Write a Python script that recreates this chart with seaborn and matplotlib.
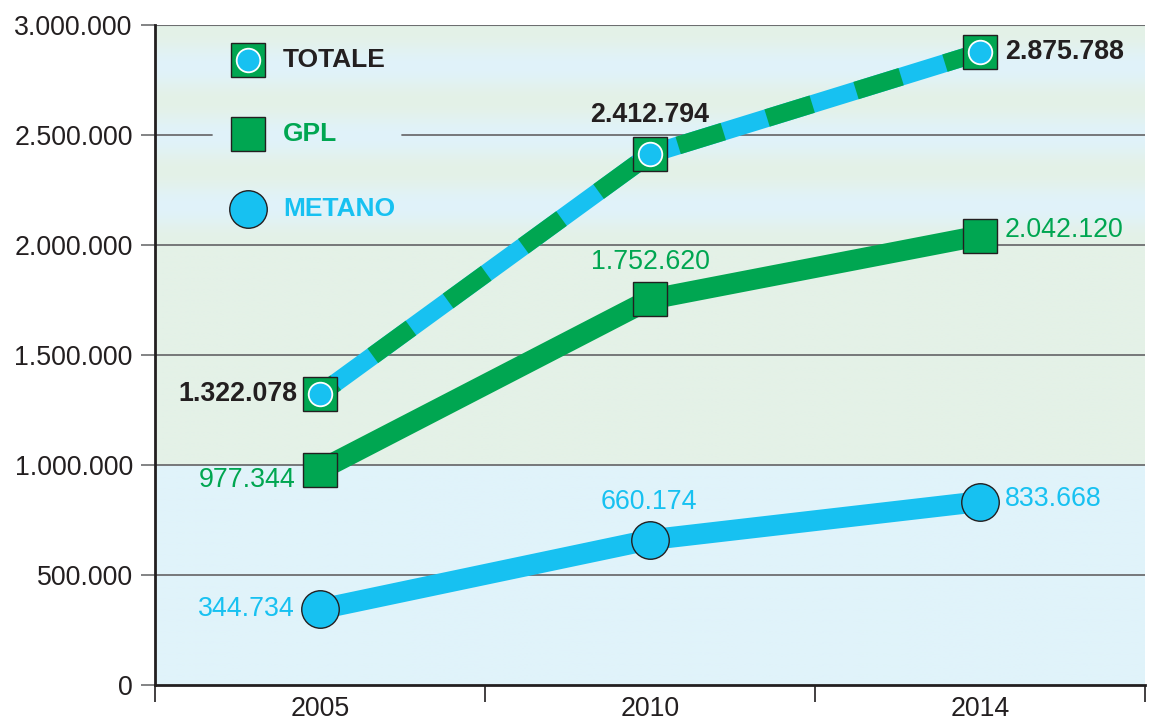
import numpy as np
import pandas as pd
import matplotlib
matplotlib.use("Agg")
import matplotlib.pyplot as plt
import seaborn as sns
from matplotlib.colors import to_rgb

# ---------------- data ----------------
years = ["2005", "2010", "2014"]
totale = [1322078, 2412794, 2875788]
gpl = [977344, 1752620, 2042120]
metano = [344734, 660174, 833668]
series_names = ["TOTALE", "GPL", "METANO"]
y_ticks = [0, 500000, 1000000, 1500000, 2000000, 2500000, 3000000]

# ---------------- style ----------------
GREEN = "#00A651"
BLUE = "#17C1F1"
DARK = "#231F20"
GRID = "#6D6E70"
BG_BLUE = "#E0F3FA"
BG_GREEN = "#E4F1E7"

sns.set_theme(style="white")
plt.rcParams["font.family"] = ["Liberation Sans", "DejaVu Sans"]
plt.rcParams["lines.scale_dashes"] = False

def fmt(v):
    return f"{v:,}".replace(",", ".")

fig = plt.figure(figsize=(11.49, 7.21), dpi=100)
ax = fig.add_axes([155 / 1149, 36 / 721, 990 / 1149, 660 / 721])

x = np.arange(len(years))
ax.set_xlim(-0.5, 2.5)
ax.set_ylim(0, 3000000)

# ---------------- background bands ----------------
yy = np.linspace(0, 3000000, 600)
gb, gg = np.array(to_rgb(BG_BLUE)), np.array(to_rgb(BG_GREEN))
rows = []
for v in yy:
    if v < 1000000:
        m = 0.0
    elif v < 2000000:
        m = 1.0
    else:
        m = 0.5 + 0.5 * np.cos((v - 2020000) / 318000 * 2 * np.pi)
    rows.append(gb * (1 - m) + gg * m)
img = np.array(rows)[:, None, :].repeat(2, axis=1)
ax.imshow(img, extent=(-0.5, 2.5, 0, 3000000), origin="lower", aspect="auto", zorder=0)

# ---------------- grid lines ----------------
for t in y_ticks[1:]:
    if t == 2500000:
        ax.axhline(t, xmin=0, xmax=57 / 990, color=GRID, lw=1.3, zorder=1)
        ax.axhline(t, xmin=247 / 990, xmax=1, color=GRID, lw=1.3, zorder=1)
    else:
        ax.axhline(t, color=GRID, lw=1.5 if t == 3000000 else 1.3, zorder=1)

# ---------------- lines ----------------
df_m = pd.DataFrame({"x": x, "y": metano})
df_g = pd.DataFrame({"x": x, "y": gpl})
df_t = pd.DataFrame({"x": x, "y": totale})

sns.lineplot(data=df_m, x="x", y="y", ax=ax, color=BLUE, lw=15, marker="o",
             markersize=27, markerfacecolor=BLUE, markeredgecolor=DARK,
             markeredgewidth=1.0, zorder=3, solid_capstyle="butt")
sns.lineplot(data=df_g, x="x", y="y", ax=ax, color=GREEN, lw=15, marker="s",
             markersize=24.5, markerfacecolor=GREEN, markeredgecolor=DARK,
             markeredgewidth=1.0, zorder=3, solid_capstyle="butt")
sns.lineplot(data=df_t, x="x", y="y", ax=ax, color=BLUE, lw=13, zorder=4,
             solid_capstyle="butt")
sns.lineplot(data=df_t, x="x", y="y", ax=ax, color=GREEN, lw=13, zorder=4)
dl = ax.lines[-1]
dl.set_linestyle((20, (34, 33)))
dl.set_dash_capstyle("butt")
dl.set_dash_joinstyle("miter")
ax.plot(x, totale, ls="none", marker="s", markersize=24.5, markerfacecolor=GREEN,
        markeredgecolor=DARK, markeredgewidth=1.0, zorder=5)
ax.plot(x, totale, ls="none", marker="o", markersize=17, markerfacecolor=BLUE,
        markeredgecolor="white", markeredgewidth=1.3, zorder=6)

# ---------------- value labels ----------------
FS = 19.3
def lab(i, v, color, dx, dy, ha, bold=False):
    ax.annotate(fmt(v), (x[i], v), xytext=(dx, dy), textcoords="offset points",
                ha=ha, va="center", fontsize=FS, color=color,
                fontweight="bold" if bold else "normal", zorder=7)

lab(0, totale[0], DARK, -16, 0, "right", True)
lab(1, totale[1], DARK, 0, 28, "center", True)
lab(2, totale[2], DARK, 18, 0, "left", True)
lab(0, gpl[0], GREEN, -18, -7, "right")
lab(1, gpl[1], GREEN, 0, 27, "center")
lab(2, gpl[2], GREEN, 18, 4, "left")
lab(0, metano[0], BLUE, -18, 0, "right")
lab(1, metano[1], BLUE, -1, 27, "center")
lab(2, metano[2], BLUE, 18, 2, "left")

# ---------------- legend (manual) ----------------
lx, tx = 93 / 990, 128 / 990
ly = [(685 - 60) / 660, (685 - 134) / 660, (685 - 209) / 660]
ax.plot([lx], [ly[0]], transform=ax.transAxes, marker="s", markersize=24.5,
        markerfacecolor=GREEN, markeredgecolor=DARK, markeredgewidth=1.0, clip_on=False, zorder=8)
ax.plot([lx], [ly[0]], transform=ax.transAxes, marker="o", markersize=17,
        markerfacecolor=BLUE, markeredgecolor="white", markeredgewidth=1.3, clip_on=False, zorder=9)
ax.plot([lx], [ly[1]], transform=ax.transAxes, marker="s", markersize=24.5,
        markerfacecolor=GREEN, markeredgecolor=DARK, markeredgewidth=1.0, clip_on=False, zorder=8)
ax.plot([lx], [ly[2]], transform=ax.transAxes, marker="o", markersize=27,
        markerfacecolor=BLUE, markeredgecolor=DARK, markeredgewidth=1.0, clip_on=False, zorder=8)
for name, yv, c in zip(series_names, ly, [DARK, GREEN, BLUE]):
    ax.text(tx, yv, name, transform=ax.transAxes, ha="left", va="center",
            fontsize=19, fontweight="bold", color=c, zorder=9)

# ---------------- axes ----------------
ax.set_yticks(y_ticks)
ax.set_yticklabels([fmt(t) for t in y_ticks])
ax.set_xticks([-0.5, 0.5, 1.5, 2.5])
ax.set_xticklabels([])
ax.set_xticks(x, minor=True)
ax.set_xticklabels(years, minor=True)
ax.tick_params(axis="y", which="major", left=True, length=10, width=1.2, color=GRID,
               labelsize=19.3, labelcolor=DARK, pad=6)
ax.tick_params(axis="x", which="major", bottom=True, length=12, width=1.2, color=DARK)
ax.tick_params(axis="x", which="minor", bottom=False, length=0, labelsize=19.3,
               labelcolor=DARK, pad=8)
ax.set_xlabel("")
ax.set_ylabel("")
for s in ["top", "right"]:
    ax.spines[s].set_visible(False)
ax.spines["left"].set_color(DARK)
ax.spines["left"].set_linewidth(2)
ax.spines["bottom"].set_color(DARK)
ax.spines["bottom"].set_linewidth(2)
ax.spines["left"].set_zorder(10)
ax.spines["bottom"].set_zorder(10)
ax.grid(False)
leg = ax.get_legend()
if leg is not None:
    leg.remove()

fig.savefig("out.png", dpi=100)
